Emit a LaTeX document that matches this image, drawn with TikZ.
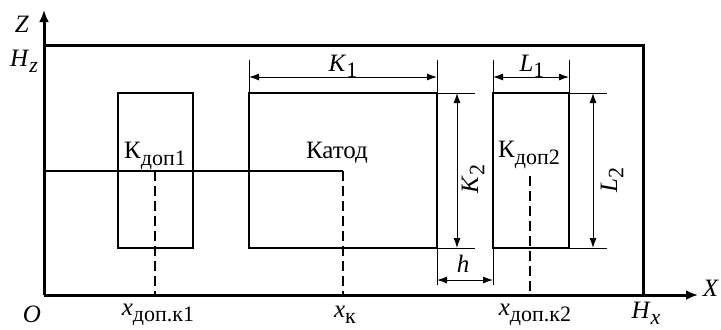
\documentclass[tikz,border=0pt]{standalone}
\usepackage{fontspec}
\setmainfont{Liberation Serif}
\usetikzlibrary{arrows.meta}
\newcommand{\lbl}[2]{\textit{#1}\raisebox{-0.55ex}{\fontsize{11}{12}\selectfont #2}}

\begin{document}
\begin{tikzpicture}[x=0.5pt,y=-0.5pt, every node/.style={font=\fontsize{12.5}{14}\selectfont, inner sep=0pt},
  frame/.style={line width=1.5pt},
  body/.style={line width=1.1pt},
  cathode/.style={line width=1.4pt},
  axis/.style={line width=1.5pt, -{Latex[length=6pt,width=5pt]}},
  dimline/.style={line width=0.5pt},
  dimarrow/.style={line width=0.5pt, {Latex[length=5pt,width=3.5pt]}-{Latex[length=5pt,width=3.5pt]}},
  centre/.style={line width=1.1pt, dash pattern=on 5pt off 2.5pt}]
  \useasboundingbox (0,0) rectangle (721,329);
  % axes and outer frame
  \coordinate (O) at (44,295);
  \coordinate (Ztip) at (44,10);
  \coordinate (Xtip) at (698,295);
  \coordinate (HzL) at (44,45);
  \coordinate (HzR) at (643,45);
  \coordinate (HxB) at (643,295);
  \draw[frame] (HzL) -- (HzR) -- (HxB);
  \draw[axis] (O) -- (Ztip);
  \draw[axis] (O) -- (Xtip);
  % electrodes
  \coordinate (kdA) at (118,93);  \coordinate (kdB) at (193,248);
  \coordinate (catA) at (249,93); \coordinate (catB) at (437,248);
  \coordinate (kdC) at (493,93);  \coordinate (kdD) at (569,248);
  \draw[body] (kdA) rectangle (kdB);
  \draw[cathode] (catA) rectangle (catB);
  \draw[body] (kdC) rectangle (kdD);
  % centre lines
  \coordinate (midL) at (44,171);
  \coordinate (midR) at (343,171);
  \coordinate (xk) at (343,295);
  \draw[body] (midL) -- (midR);
  \draw[centre] (midR) -- (xk);
  \draw[centre] (155,171) coordinate (c1top) -- (155,295) coordinate (xk1);
  \draw[centre] (530,176) coordinate (c2top) -- (530,295) coordinate (xk2);
  % extension lines
  \foreach \x in {249,437,493,569} {
    \draw[dimline] (\x,60) -- (\x,93);
  }
  \foreach \y in {93,248} {
    \draw[dimline] (437,\y) -- (475,\y);
    \draw[dimline] (569,\y) -- (607,\y);
  }
  \draw[dimline] (437,248) -- (437,285);
  \draw[dimline] (493,248) -- (493,285);
  % dimensions
  \coordinate (K1a) at (249,77); \coordinate (K1b) at (437,77);
  \coordinate (K2a) at (457,93); \coordinate (K2b) at (457,248);
  \coordinate (ha) at (437,280); \coordinate (hb) at (493,280);
  \coordinate (L1a) at (493,77); \coordinate (L1b) at (569,77);
  \coordinate (L2a) at (593,93); \coordinate (L2b) at (593,248);
  \draw[dimarrow] (K1a) -- (K1b);
  \draw[dimarrow] (K2a) -- (K2b);
  \draw[dimarrow] (ha) -- (hb);
  \draw[dimarrow] (L1a) -- (L1b);
  \draw[dimarrow] (L2a) -- (L2b);
  \node (K1lbl) at (343,66) {\lbl{K}{1}};
  \node[rotate=90] (K2lbl) at (473,179) {\lbl{K}{2}};
  \node (hlbl) at (463,264) {\textit{h}};
  \node (L1lbl) at (532,66) {\lbl{L}{1}};
  \node[rotate=90] (L2lbl) at (612,180) {\lbl{L}{2}};
  % electrode labels
  \node (kd1lbl) at (155,156) {К\raisebox{-0.55ex}{\fontsize{11}{12}\selectfont доп1}};
  \node (catlbl) at (337,153) {Катод};
  \node (kd2lbl) at (529,155) {К\raisebox{-0.55ex}{\fontsize{11}{12}\selectfont доп2}};
  % axis labels
  \node (Zlbl) at (22,24) {\textit{Z}};
  \node (Hzlbl) at (24,61) {\lbl{H}{\textit{z}}};
  \node (Olbl) at (32,314) {\textit{O}};
  \node (Xlbl) at (711,288) {\textit{X}};
  \node (Hxlbl) at (646,313) {\lbl{H}{\textit{x}}};
  \node (xk1lbl) at (158,315) {\lbl{x}{доп.к1}};
  \node (xklbl) at (345,315) {\lbl{x}{к}};
  \node (xk2lbl) at (535,315) {\lbl{x}{доп.к2}};
\end{tikzpicture}
\end{document}
